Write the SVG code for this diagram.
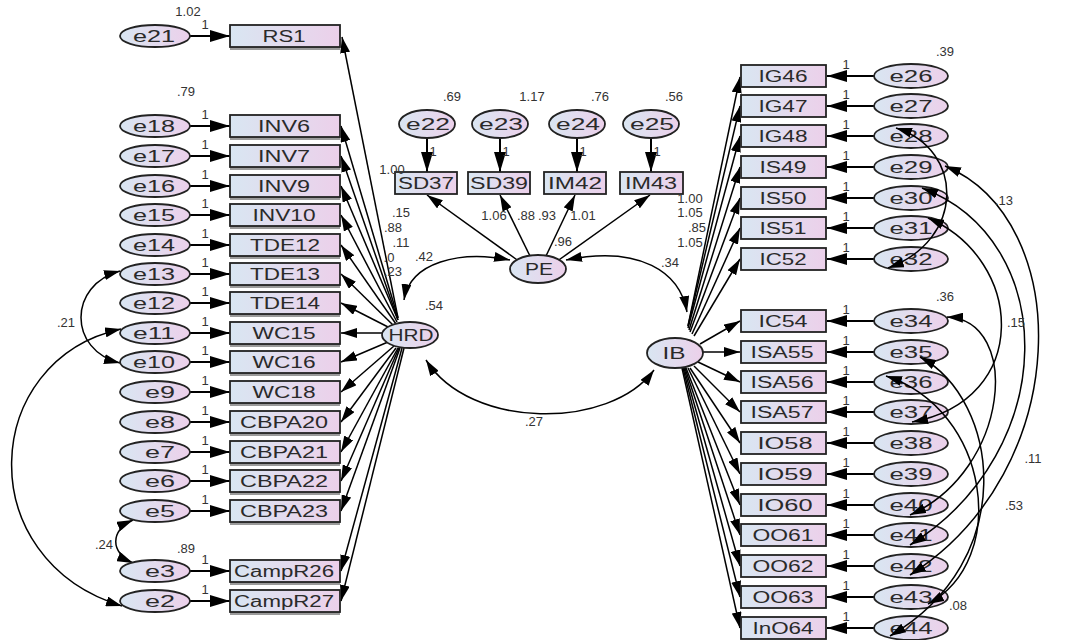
<svg xmlns="http://www.w3.org/2000/svg" width="1066" height="640" viewBox="0 0 1066 640">
<defs>
<linearGradient id="g" x1="0" y1="0" x2="1" y2="0"><stop offset="0" stop-color="#d9e6f2"/><stop offset="1" stop-color="#ecd0ea"/></linearGradient>
<marker id="ah" markerUnits="userSpaceOnUse" markerWidth="16" markerHeight="10" refX="16" refY="5" orient="auto-start-reverse"><path d="M0,0 L16,5 L0,10 z" fill="#000"/></marker>
<marker id="ab" markerUnits="userSpaceOnUse" markerWidth="20" markerHeight="12" refX="20" refY="6" orient="auto"><path d="M0,0 L20,6 L0,12 z" fill="#000"/></marker>
<style>
.b{fill:url(#g);stroke:#222;stroke-width:1.8}
.sh{fill:#9a9a9a}
.el{fill:url(#g);stroke:#222;stroke-width:1.8}
.t{font-family:"Liberation Sans",Arial,sans-serif;font-size:16px;fill:#2a2a2a;text-anchor:middle;dominant-baseline:central}
.n{font-family:"Liberation Sans",Arial,sans-serif;font-size:13px;fill:#333;text-anchor:middle}
.c line,.c path{stroke:#000;stroke-width:1.5;fill:none}
.a{marker-end:url(#ah)}
.c .e{marker-end:url(#ab);stroke-width:2}
.d{marker-start:url(#ah);marker-end:url(#ah)}
</style>
</defs>
<rect width="1066" height="640" fill="#fff"/>
<g id="connectors" class="c">
<line class="a" x1="398" y1="318" x2="342" y2="37"/>
<line class="a" x1="398" y1="318" x2="341" y2="126"/>
<line class="a" x1="398" y1="320" x2="341" y2="156"/>
<line class="a" x1="398" y1="320" x2="341" y2="186"/>
<line class="a" x1="397" y1="322" x2="341" y2="215"/>
<line class="a" x1="396" y1="324" x2="341" y2="245"/>
<line class="a" x1="394" y1="326" x2="341" y2="274"/>
<line class="a" x1="390" y1="328" x2="341" y2="303"/>
<line class="a" x1="383" y1="333" x2="341" y2="333"/>
<line class="a" x1="388" y1="342" x2="341" y2="362"/>
<line class="a" x1="394" y1="346" x2="341" y2="392"/>
<line class="a" x1="396" y1="348" x2="341" y2="422"/>
<line class="a" x1="398" y1="348" x2="341" y2="452"/>
<line class="a" x1="399" y1="348" x2="341" y2="481"/>
<line class="a" x1="400" y1="348" x2="341" y2="511"/>
<line class="a" x1="402" y1="348" x2="341" y2="571"/>
<line class="a" x1="404" y1="348" x2="341" y2="601"/>
<line class="e" x1="190" y1="36" x2="230" y2="36"/>
<line class="e" x1="190" y1="126" x2="230" y2="126"/>
<line class="e" x1="190" y1="156" x2="230" y2="156"/>
<line class="e" x1="190" y1="186" x2="230" y2="186"/>
<line class="e" x1="190" y1="215" x2="230" y2="215"/>
<line class="e" x1="190" y1="245" x2="230" y2="245"/>
<line class="e" x1="190" y1="274" x2="230" y2="274"/>
<line class="e" x1="190" y1="303" x2="230" y2="303"/>
<line class="e" x1="190" y1="333" x2="230" y2="333"/>
<line class="e" x1="190" y1="362" x2="230" y2="362"/>
<line class="e" x1="190" y1="392" x2="230" y2="392"/>
<line class="e" x1="190" y1="422" x2="230" y2="422"/>
<line class="e" x1="190" y1="452" x2="230" y2="452"/>
<line class="e" x1="190" y1="481" x2="230" y2="481"/>
<line class="e" x1="190" y1="511" x2="230" y2="511"/>
<line class="e" x1="190" y1="571" x2="230" y2="571"/>
<line class="e" x1="190" y1="601" x2="230" y2="601"/>
<path class="d" d="M120 271 C68 285 68 350 120 363"/>
<path class="d" d="M121 329 C-20 360 -30 560 122 606"/>
<path class="d" d="M133 520 C110 530 110 553 133 563"/>
<line class="e" x1="427" y1="138" x2="427" y2="172"/>
<line class="e" x1="500" y1="138" x2="500" y2="172"/>
<line class="e" x1="577" y1="138" x2="577" y2="172"/>
<line class="e" x1="651" y1="138" x2="651" y2="172"/>
<line class="a" x1="520" y1="262" x2="427" y2="195"/>
<line class="a" x1="530" y1="256" x2="500" y2="195"/>
<line class="a" x1="546" y1="256" x2="575" y2="195"/>
<line class="a" x1="556" y1="262" x2="650" y2="195"/>
<path class="d" d="M404 300 C410 262 460 250 510 260"/>
<path class="d" d="M566 260 C640 245 680 272 687 312"/>
<path class="d" d="M426 360 C470 430 610 430 654 370"/>
<line class="a" x1="688" y1="326" x2="740" y2="77"/>
<line class="a" x1="688" y1="326" x2="740" y2="106"/>
<line class="a" x1="688" y1="328" x2="740" y2="136"/>
<line class="a" x1="689" y1="330" x2="740" y2="167"/>
<line class="a" x1="690" y1="332" x2="740" y2="198"/>
<line class="a" x1="692" y1="334" x2="740" y2="228"/>
<line class="a" x1="694" y1="336" x2="740" y2="259"/>
<line class="a" x1="700" y1="344" x2="740" y2="321"/>
<line class="a" x1="703" y1="352" x2="740" y2="352"/>
<line class="a" x1="698" y1="362" x2="740" y2="382"/>
<line class="a" x1="694" y1="366" x2="740" y2="412"/>
<line class="a" x1="690" y1="368" x2="740" y2="443"/>
<line class="a" x1="688" y1="368" x2="740" y2="474"/>
<line class="a" x1="686" y1="368" x2="740" y2="505"/>
<line class="a" x1="685" y1="368" x2="740" y2="535"/>
<line class="a" x1="684" y1="368" x2="740" y2="566"/>
<line class="a" x1="683" y1="368" x2="740" y2="597"/>
<line class="a" x1="682" y1="368" x2="740" y2="628"/>
<line class="e" x1="874" y1="76" x2="827" y2="76"/>
<line class="e" x1="874" y1="106" x2="827" y2="106"/>
<line class="e" x1="874" y1="136" x2="827" y2="136"/>
<line class="e" x1="874" y1="167" x2="827" y2="167"/>
<line class="e" x1="874" y1="198" x2="827" y2="198"/>
<line class="e" x1="874" y1="228" x2="827" y2="228"/>
<line class="e" x1="874" y1="259" x2="827" y2="259"/>
<line class="e" x1="874" y1="321" x2="827" y2="321"/>
<line class="e" x1="874" y1="352" x2="827" y2="352"/>
<line class="e" x1="874" y1="382" x2="827" y2="382"/>
<line class="e" x1="874" y1="412" x2="827" y2="412"/>
<line class="e" x1="874" y1="443" x2="827" y2="443"/>
<line class="e" x1="874" y1="474" x2="827" y2="474"/>
<line class="e" x1="874" y1="505" x2="827" y2="505"/>
<line class="e" x1="874" y1="535" x2="827" y2="535"/>
<line class="e" x1="874" y1="566" x2="827" y2="566"/>
<line class="e" x1="874" y1="597" x2="827" y2="597"/>
<line class="e" x1="874" y1="628" x2="827" y2="628"/>
</g>
<g id="HRD"><ellipse class="el" cx="410" cy="335" rx="28" ry="13"/><text class="t" x="411" y="335" textLength="45" lengthAdjust="spacingAndGlyphs">HRD</text></g>
<g id="PE"><ellipse class="el" cx="538" cy="269" rx="28" ry="14"/><text class="t" x="539" y="269" textLength="28" lengthAdjust="spacingAndGlyphs">PE</text></g>
<g id="IB"><ellipse class="el" cx="675" cy="353" rx="28" ry="15"/><text class="t" x="674" y="353" textLength="23" lengthAdjust="spacingAndGlyphs">IB</text></g>
<g id="RS1"><rect class="sh" x="230" y="28" width="110" height="22"/><rect class="b" x="230" y="25" width="110" height="22"/><text class="t" x="284" y="36" textLength="43" lengthAdjust="spacingAndGlyphs">RS1</text></g>
<g id="INV6"><rect class="sh" x="230" y="118" width="110" height="22"/><rect class="b" x="230" y="115" width="110" height="22"/><text class="t" x="284" y="126" textLength="52" lengthAdjust="spacingAndGlyphs">INV6</text></g>
<g id="INV7"><rect class="sh" x="230" y="148" width="110" height="22"/><rect class="b" x="230" y="145" width="110" height="22"/><text class="t" x="284" y="156" textLength="52" lengthAdjust="spacingAndGlyphs">INV7</text></g>
<g id="INV9"><rect class="sh" x="230" y="178" width="110" height="22"/><rect class="b" x="230" y="175" width="110" height="22"/><text class="t" x="284" y="186" textLength="52" lengthAdjust="spacingAndGlyphs">INV9</text></g>
<g id="INV10"><rect class="sh" x="230" y="207" width="110" height="22"/><rect class="b" x="230" y="204" width="110" height="22"/><text class="t" x="284" y="215" textLength="63" lengthAdjust="spacingAndGlyphs">INV10</text></g>
<g id="TDE12"><rect class="sh" x="230" y="237" width="110" height="22"/><rect class="b" x="230" y="234" width="110" height="22"/><text class="t" x="285" y="245" textLength="70" lengthAdjust="spacingAndGlyphs">TDE12</text></g>
<g id="TDE13"><rect class="sh" x="230" y="266" width="110" height="22"/><rect class="b" x="230" y="263" width="110" height="22"/><text class="t" x="285" y="274" textLength="70" lengthAdjust="spacingAndGlyphs">TDE13</text></g>
<g id="TDE14"><rect class="sh" x="230" y="295" width="110" height="22"/><rect class="b" x="230" y="292" width="110" height="22"/><text class="t" x="285" y="303" textLength="70" lengthAdjust="spacingAndGlyphs">TDE14</text></g>
<g id="WC15"><rect class="sh" x="230" y="325" width="110" height="22"/><rect class="b" x="230" y="322" width="110" height="22"/><text class="t" x="284" y="333" textLength="63" lengthAdjust="spacingAndGlyphs">WC15</text></g>
<g id="WC16"><rect class="sh" x="230" y="354" width="110" height="22"/><rect class="b" x="230" y="351" width="110" height="22"/><text class="t" x="284" y="362" textLength="63" lengthAdjust="spacingAndGlyphs">WC16</text></g>
<g id="WC18"><rect class="sh" x="230" y="384" width="110" height="22"/><rect class="b" x="230" y="381" width="110" height="22"/><text class="t" x="284" y="392" textLength="63" lengthAdjust="spacingAndGlyphs">WC18</text></g>
<g id="CBPA20"><rect class="sh" x="230" y="414" width="110" height="22"/><rect class="b" x="230" y="411" width="110" height="22"/><text class="t" x="284" y="422" textLength="88" lengthAdjust="spacingAndGlyphs">CBPA20</text></g>
<g id="CBPA21"><rect class="sh" x="230" y="444" width="110" height="22"/><rect class="b" x="230" y="441" width="110" height="22"/><text class="t" x="284" y="452" textLength="88" lengthAdjust="spacingAndGlyphs">CBPA21</text></g>
<g id="CBPA22"><rect class="sh" x="230" y="473" width="110" height="22"/><rect class="b" x="230" y="470" width="110" height="22"/><text class="t" x="284" y="481" textLength="88" lengthAdjust="spacingAndGlyphs">CBPA22</text></g>
<g id="CBPA23"><rect class="sh" x="230" y="503" width="110" height="22"/><rect class="b" x="230" y="500" width="110" height="22"/><text class="t" x="284" y="511" textLength="88" lengthAdjust="spacingAndGlyphs">CBPA23</text></g>
<g id="CampR26"><rect class="sh" x="230" y="563" width="110" height="22"/><rect class="b" x="230" y="560" width="110" height="22"/><text class="t" x="284" y="571" textLength="100" lengthAdjust="spacingAndGlyphs">CampR26</text></g>
<g id="CampR27"><rect class="sh" x="230" y="593" width="110" height="22"/><rect class="b" x="230" y="590" width="110" height="22"/><text class="t" x="284" y="601" textLength="100" lengthAdjust="spacingAndGlyphs">CampR27</text></g>
<g id="e21"><ellipse class="el" cx="155" cy="36" rx="35" ry="11"/><text class="t" x="154" y="36" textLength="42" lengthAdjust="spacingAndGlyphs">e21</text></g>
<g id="e18"><ellipse class="el" cx="155" cy="126" rx="35" ry="11"/><text class="t" x="154" y="126" textLength="42" lengthAdjust="spacingAndGlyphs">e18</text></g>
<g id="e17"><ellipse class="el" cx="155" cy="156" rx="35" ry="11"/><text class="t" x="154" y="156" textLength="42" lengthAdjust="spacingAndGlyphs">e17</text></g>
<g id="e16"><ellipse class="el" cx="155" cy="186" rx="35" ry="11"/><text class="t" x="154" y="186" textLength="42" lengthAdjust="spacingAndGlyphs">e16</text></g>
<g id="e15"><ellipse class="el" cx="155" cy="215" rx="35" ry="11"/><text class="t" x="154" y="215" textLength="42" lengthAdjust="spacingAndGlyphs">e15</text></g>
<g id="e14"><ellipse class="el" cx="155" cy="245" rx="35" ry="11"/><text class="t" x="154" y="245" textLength="42" lengthAdjust="spacingAndGlyphs">e14</text></g>
<g id="e13"><ellipse class="el" cx="155" cy="274" rx="35" ry="11"/><text class="t" x="154" y="274" textLength="42" lengthAdjust="spacingAndGlyphs">e13</text></g>
<g id="e12"><ellipse class="el" cx="155" cy="303" rx="35" ry="11"/><text class="t" x="154" y="303" textLength="42" lengthAdjust="spacingAndGlyphs">e12</text></g>
<g id="e11"><ellipse class="el" cx="155" cy="333" rx="35" ry="11"/><text class="t" x="154" y="333" textLength="42" lengthAdjust="spacingAndGlyphs">e11</text></g>
<g id="e10"><ellipse class="el" cx="155" cy="362" rx="35" ry="11"/><text class="t" x="154" y="362" textLength="42" lengthAdjust="spacingAndGlyphs">e10</text></g>
<g id="e9"><ellipse class="el" cx="155" cy="392" rx="35" ry="11"/><text class="t" x="160" y="392" textLength="30" lengthAdjust="spacingAndGlyphs">e9</text></g>
<g id="e8"><ellipse class="el" cx="155" cy="422" rx="35" ry="11"/><text class="t" x="160" y="422" textLength="30" lengthAdjust="spacingAndGlyphs">e8</text></g>
<g id="e7"><ellipse class="el" cx="155" cy="452" rx="35" ry="11"/><text class="t" x="160" y="452" textLength="30" lengthAdjust="spacingAndGlyphs">e7</text></g>
<g id="e6"><ellipse class="el" cx="155" cy="481" rx="35" ry="11"/><text class="t" x="160" y="481" textLength="30" lengthAdjust="spacingAndGlyphs">e6</text></g>
<g id="e5"><ellipse class="el" cx="155" cy="511" rx="35" ry="11"/><text class="t" x="160" y="511" textLength="30" lengthAdjust="spacingAndGlyphs">e5</text></g>
<g id="e3"><ellipse class="el" cx="155" cy="571" rx="35" ry="11"/><text class="t" x="160" y="571" textLength="30" lengthAdjust="spacingAndGlyphs">e3</text></g>
<g id="e2"><ellipse class="el" cx="155" cy="601" rx="35" ry="11"/><text class="t" x="160" y="601" textLength="30" lengthAdjust="spacingAndGlyphs">e2</text></g>
<g id="e22"><ellipse class="el" cx="427" cy="124" rx="28" ry="14"/><text class="t" x="428" y="124" textLength="44" lengthAdjust="spacingAndGlyphs">e22</text></g>
<g id="e23"><ellipse class="el" cx="500" cy="124" rx="28" ry="14"/><text class="t" x="501" y="124" textLength="44" lengthAdjust="spacingAndGlyphs">e23</text></g>
<g id="e24"><ellipse class="el" cx="577" cy="124" rx="28" ry="14"/><text class="t" x="578" y="124" textLength="44" lengthAdjust="spacingAndGlyphs">e24</text></g>
<g id="e25"><ellipse class="el" cx="651" cy="124" rx="28" ry="14"/><text class="t" x="652" y="124" textLength="44" lengthAdjust="spacingAndGlyphs">e25</text></g>
<g id="SD37"><rect class="b" x="395" y="172" width="62" height="22"/><text class="t" x="426" y="183" textLength="56" lengthAdjust="spacingAndGlyphs">SD37</text></g>
<g id="SD39"><rect class="b" x="468" y="172" width="62" height="22"/><text class="t" x="499" y="183" textLength="58" lengthAdjust="spacingAndGlyphs">SD39</text></g>
<g id="IM42"><rect class="b" x="544" y="172" width="62" height="22"/><text class="t" x="575" y="183" textLength="54" lengthAdjust="spacingAndGlyphs">IM42</text></g>
<g id="IM43"><rect class="b" x="620" y="172" width="63" height="22"/><text class="t" x="651" y="183" textLength="52" lengthAdjust="spacingAndGlyphs">IM43</text></g>
<g id="IG46"><rect class="b" x="741" y="65" width="85" height="22"/><text class="t" x="783" y="76" textLength="49" lengthAdjust="spacingAndGlyphs">IG46</text></g>
<g id="IG47"><rect class="b" x="741" y="95" width="85" height="22"/><text class="t" x="783" y="106" textLength="49" lengthAdjust="spacingAndGlyphs">IG47</text></g>
<g id="IG48"><rect class="b" x="741" y="125" width="85" height="22"/><text class="t" x="783" y="136" textLength="49" lengthAdjust="spacingAndGlyphs">IG48</text></g>
<g id="IS49"><rect class="b" x="741" y="156" width="85" height="22"/><text class="t" x="783" y="167" textLength="47" lengthAdjust="spacingAndGlyphs">IS49</text></g>
<g id="IS50"><rect class="b" x="741" y="187" width="85" height="22"/><text class="t" x="783" y="198" textLength="47" lengthAdjust="spacingAndGlyphs">IS50</text></g>
<g id="IS51"><rect class="b" x="741" y="217" width="85" height="22"/><text class="t" x="783" y="228" textLength="47" lengthAdjust="spacingAndGlyphs">IS51</text></g>
<g id="IC52"><rect class="b" x="741" y="248" width="85" height="22"/><text class="t" x="783" y="259" textLength="47" lengthAdjust="spacingAndGlyphs">IC52</text></g>
<g id="IC54"><rect class="b" x="741" y="310" width="85" height="22"/><text class="t" x="783" y="321" textLength="49" lengthAdjust="spacingAndGlyphs">IC54</text></g>
<g id="ISA55"><rect class="b" x="741" y="341" width="85" height="22"/><text class="t" x="782" y="352" textLength="63" lengthAdjust="spacingAndGlyphs">ISA55</text></g>
<g id="ISA56"><rect class="b" x="741" y="371" width="85" height="22"/><text class="t" x="782" y="382" textLength="63" lengthAdjust="spacingAndGlyphs">ISA56</text></g>
<g id="ISA57"><rect class="b" x="741" y="401" width="85" height="22"/><text class="t" x="782" y="412" textLength="63" lengthAdjust="spacingAndGlyphs">ISA57</text></g>
<g id="IO58"><rect class="b" x="741" y="432" width="85" height="22"/><text class="t" x="785" y="443" textLength="55" lengthAdjust="spacingAndGlyphs">IO58</text></g>
<g id="IO59"><rect class="b" x="741" y="463" width="85" height="22"/><text class="t" x="785" y="474" textLength="55" lengthAdjust="spacingAndGlyphs">IO59</text></g>
<g id="IO60"><rect class="b" x="741" y="494" width="85" height="22"/><text class="t" x="785" y="505" textLength="55" lengthAdjust="spacingAndGlyphs">IO60</text></g>
<g id="OO61"><rect class="b" x="741" y="524" width="85" height="22"/><text class="t" x="783" y="535" textLength="61" lengthAdjust="spacingAndGlyphs">OO61</text></g>
<g id="OO62"><rect class="b" x="741" y="555" width="85" height="22"/><text class="t" x="783" y="566" textLength="61" lengthAdjust="spacingAndGlyphs">OO62</text></g>
<g id="OO63"><rect class="b" x="741" y="586" width="85" height="22"/><text class="t" x="783" y="597" textLength="61" lengthAdjust="spacingAndGlyphs">OO63</text></g>
<g id="InO64"><rect class="b" x="741" y="617" width="85" height="22"/><text class="t" x="783" y="628" textLength="61" lengthAdjust="spacingAndGlyphs">InO64</text></g>
<g id="e26"><ellipse class="el" cx="911" cy="76" rx="37" ry="12"/><text class="t" x="911" y="76" textLength="43" lengthAdjust="spacingAndGlyphs">e26</text></g>
<g id="e27"><ellipse class="el" cx="911" cy="106" rx="37" ry="12"/><text class="t" x="911" y="106" textLength="43" lengthAdjust="spacingAndGlyphs">e27</text></g>
<g id="e28"><ellipse class="el" cx="911" cy="136" rx="37" ry="12"/><text class="t" x="911" y="136" textLength="43" lengthAdjust="spacingAndGlyphs">e28</text></g>
<g id="e29"><ellipse class="el" cx="911" cy="167" rx="37" ry="12"/><text class="t" x="911" y="167" textLength="43" lengthAdjust="spacingAndGlyphs">e29</text></g>
<g id="e30"><ellipse class="el" cx="911" cy="198" rx="37" ry="12"/><text class="t" x="911" y="198" textLength="43" lengthAdjust="spacingAndGlyphs">e30</text></g>
<g id="e31"><ellipse class="el" cx="911" cy="228" rx="37" ry="12"/><text class="t" x="911" y="228" textLength="43" lengthAdjust="spacingAndGlyphs">e31</text></g>
<g id="e32"><ellipse class="el" cx="911" cy="259" rx="37" ry="12"/><text class="t" x="911" y="259" textLength="43" lengthAdjust="spacingAndGlyphs">e32</text></g>
<g id="e34"><ellipse class="el" cx="911" cy="321" rx="37" ry="12"/><text class="t" x="911" y="321" textLength="43" lengthAdjust="spacingAndGlyphs">e34</text></g>
<g id="e35"><ellipse class="el" cx="911" cy="352" rx="37" ry="12"/><text class="t" x="911" y="352" textLength="43" lengthAdjust="spacingAndGlyphs">e35</text></g>
<g id="e36"><ellipse class="el" cx="911" cy="382" rx="37" ry="12"/><text class="t" x="911" y="382" textLength="43" lengthAdjust="spacingAndGlyphs">e36</text></g>
<g id="e37"><ellipse class="el" cx="911" cy="412" rx="37" ry="12"/><text class="t" x="911" y="412" textLength="43" lengthAdjust="spacingAndGlyphs">e37</text></g>
<g id="e38"><ellipse class="el" cx="911" cy="443" rx="37" ry="12"/><text class="t" x="911" y="443" textLength="43" lengthAdjust="spacingAndGlyphs">e38</text></g>
<g id="e39"><ellipse class="el" cx="911" cy="474" rx="37" ry="12"/><text class="t" x="911" y="474" textLength="43" lengthAdjust="spacingAndGlyphs">e39</text></g>
<g id="e40"><ellipse class="el" cx="911" cy="505" rx="37" ry="12"/><text class="t" x="911" y="505" textLength="43" lengthAdjust="spacingAndGlyphs">e40</text></g>
<g id="e41"><ellipse class="el" cx="911" cy="535" rx="37" ry="12"/><text class="t" x="911" y="535" textLength="43" lengthAdjust="spacingAndGlyphs">e41</text></g>
<g id="e42"><ellipse class="el" cx="911" cy="566" rx="37" ry="12"/><text class="t" x="911" y="566" textLength="43" lengthAdjust="spacingAndGlyphs">e42</text></g>
<g id="e43"><ellipse class="el" cx="911" cy="597" rx="37" ry="12"/><text class="t" x="911" y="597" textLength="43" lengthAdjust="spacingAndGlyphs">e43</text></g>
<g id="e44"><ellipse class="el" cx="911" cy="628" rx="37" ry="12"/><text class="t" x="911" y="628" textLength="43" lengthAdjust="spacingAndGlyphs">e44</text></g>
<g id="covariance-connectors" class="c">
<path class="d" d="M896 128 C965 150 965 240 888 268"/>
<path class="d" d="M945 166 C1075 220 1075 470 910 575"/>
<path class="d" d="M922 188 C1060 240 1062 450 910 545"/>
<path class="d" d="M928 218 C1025 260 1032 400 912 422"/>
<path class="d" d="M920 357 C1000 400 1020 560 890 636"/>
<path class="d" d="M886 376 C990 410 1010 560 928 604"/>
<path class="d" d="M910 515 C1010 470 1022 320 947 317"/>
</g>
<g id="labels" class="n">
<text x="188" y="16">1.02</text><text x="186" y="96">.79</text><text x="186" y="553">.89</text>
<text x="452" y="101">.69</text><text x="532" y="101">1.17</text><text x="600" y="101">.76</text><text x="674" y="101">.56</text>
<text x="945" y="56">.39</text><text x="945" y="301">.36</text>
<text x="434" y="310">.54</text><text x="424" y="261">.42</text><text x="534" y="426">.27</text>
<text x="66" y="327">.21</text><text x="104" y="549">.24</text>
<text x="1004" y="205">.13</text><text x="1016" y="327">.15</text><text x="1033" y="463">.11</text><text x="1014" y="510">.53</text><text x="958" y="610">.08</text>
<text x="401" y="217">.15</text><text x="393" y="232">.88</text><text x="401" y="247">.11</text><text x="389" y="262">.0</text><text x="393" y="276">.23</text>
<text x="392" y="174">1.00</text><text x="494" y="220">1.06</text><text x="526" y="220">.88</text><text x="547" y="220">.93</text><text x="583" y="220">1.01</text><text x="563" y="246">.96</text>
<text x="690" y="203">1.00</text><text x="690" y="217">1.05</text><text x="697" y="232">.85</text><text x="690" y="247">1.05</text><text x="670" y="267">.34</text>
<text x="205" y="29">1</text><text x="205" y="119">1</text><text x="205" y="149">1</text><text x="205" y="179">1</text><text x="205" y="208">1</text><text x="205" y="238">1</text><text x="205" y="267">1</text><text x="205" y="296">1</text><text x="205" y="326">1</text><text x="205" y="355">1</text><text x="205" y="385">1</text><text x="205" y="415">1</text><text x="205" y="445">1</text><text x="205" y="474">1</text><text x="205" y="504">1</text><text x="205" y="564">1</text><text x="205" y="594">1</text>
<text x="433" y="156">1</text><text x="506" y="156">1</text><text x="583" y="156">1</text><text x="657" y="156">1</text>
<text x="846" y="69">1</text><text x="846" y="99">1</text><text x="846" y="129">1</text><text x="846" y="160">1</text><text x="846" y="191">1</text><text x="846" y="221">1</text><text x="846" y="252">1</text><text x="846" y="314">1</text><text x="846" y="345">1</text><text x="846" y="375">1</text><text x="846" y="405">1</text><text x="846" y="436">1</text><text x="846" y="467">1</text><text x="846" y="498">1</text><text x="846" y="528">1</text><text x="846" y="559">1</text><text x="846" y="590">1</text><text x="846" y="621">1</text>
</g>
</svg>
